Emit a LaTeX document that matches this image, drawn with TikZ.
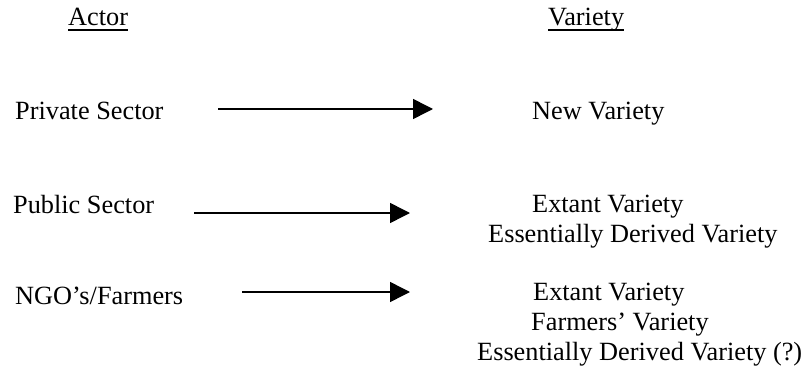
\documentclass[tikz,border=0pt]{standalone}
\usepackage{fontspec}
\setmainfont{Liberation Serif}
\usetikzlibrary{arrows.meta}
\tikzset{lbl/.style={anchor=base west,inner sep=0pt,font=\fontsize{26.3}{30}\selectfont},
  link/.style={line width=1.5pt,-{Triangle[length=20pt,width=20pt]}}}
\begin{document}
\begin{tikzpicture}[x=1pt,y=-1pt]
      \useasboundingbox (0,0) rectangle (805,374);
      \node[lbl] (actor) at (68,26) {Actor};
      \node[lbl] (variety) at (548,26) {Variety};
      \draw[line width=2pt] ([yshift=-4pt]actor.base west) -- ([yshift=-4pt]actor.base east);
      \draw[line width=2pt] ([yshift=-4pt]variety.base west) -- ([yshift=-4pt]variety.base east);
      \node[lbl] (private) at (15,120) {Private Sector};
      \node[lbl] (new) at (532,120) {New Variety};
      \coordinate (a1) at (218,109);
      \coordinate (b1) at (433,109);
      \draw[link] (a1) -- (b1);
      \node[lbl] (public) at (13,213) {Public Sector};
      \node[lbl] (extant1) at (532,212) {Extant Variety};
      \node[lbl] (derived1) at (488,242) {Essentially Derived Variety};
      \coordinate (a2) at (194,213);
      \coordinate (b2) at (410,213);
      \draw[link] (a2) -- (b2);
      \node[lbl] (ngo) at (15,304) {NGO’s/Farmers};
      \node[lbl] (extant2) at (533,300) {Extant Variety};
      \node[lbl] (farmers) at (531,330) {Farmers’ Variety};
      \node[lbl] (derived2) at (477,360) {Essentially Derived Variety (?)};
      \coordinate (a3) at (242,292);
      \coordinate (b3) at (410,292);
      \draw[link] (a3) -- (b3);
    \end{tikzpicture}
\end{document}
